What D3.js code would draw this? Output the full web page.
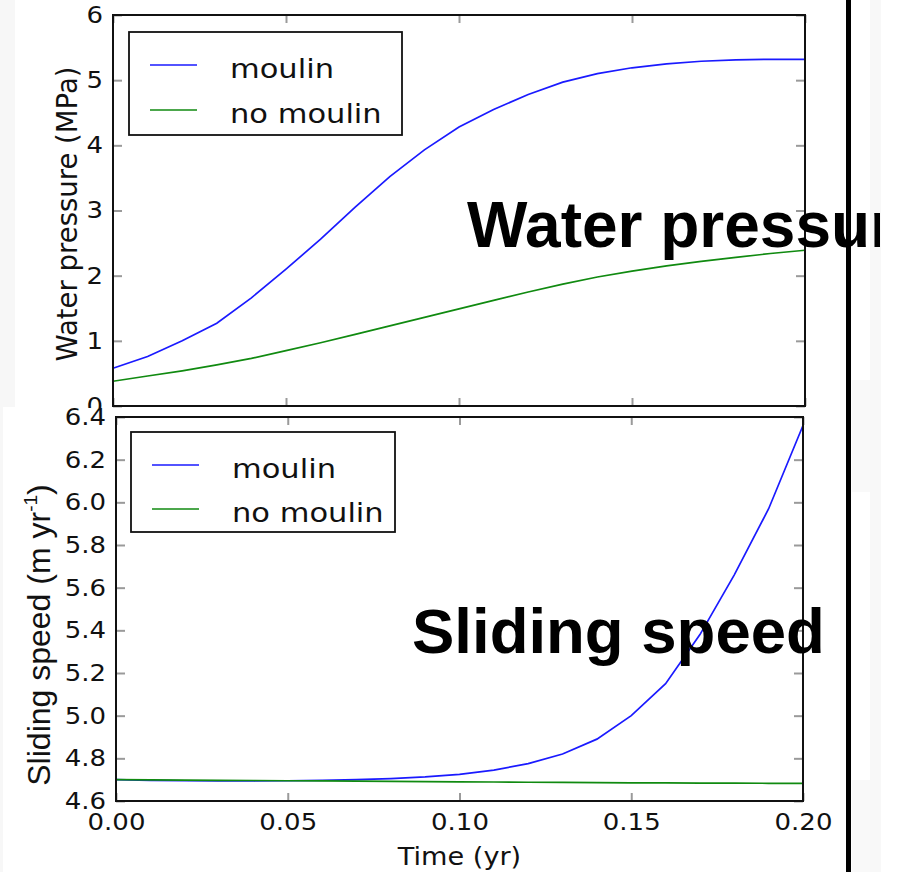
<!DOCTYPE html>
<meta charset="utf-8">
<style>
html,body { margin:0; padding:0; background:#fff; overflow:hidden; }
text { font-family: "DejaVu Sans", sans-serif; fill:#111; }
.tick line { stroke:#9a9a9a; stroke-width:2; }
</style>
<body>
<svg></svg>
<script src="https://cdn.jsdelivr.net/npm/d3@7"></script>
<script>

// time axis (yr), sampled every 0.01
var times = [0,0.01,0.02,0.03,0.04,0.05,0.06,0.07,0.08,0.09,0.10,0.11,0.12,0.13,0.14,0.15,0.16,0.17,0.18,0.19,0.20];
var pressureMoulin   = [0.58,0.76,1.0,1.27,1.66,2.1,2.56,3.05,3.52,3.93,4.28,4.55,4.78,4.97,5.1,5.19,5.25,5.29,5.31,5.32,5.32];
var pressureNoMoulin = [0.38,0.46,0.54,0.63,0.73,0.85,0.97,1.1,1.23,1.36,1.49,1.62,1.75,1.87,1.98,2.07,2.15,2.22,2.28,2.34,2.39];
var speedMoulin   = [4.70,4.697,4.695,4.694,4.694,4.695,4.697,4.70,4.705,4.713,4.725,4.745,4.775,4.82,4.89,5.0,5.15,5.38,5.66,5.97,6.36];
var speedNoMoulin = [4.70,4.699,4.698,4.697,4.696,4.695,4.694,4.693,4.692,4.691,4.69,4.689,4.688,4.687,4.686,4.685,4.685,4.684,4.684,4.683,4.683];
var seriesNames = ["moulin","no moulin"];
var seriesColors = ["#1a1aff","#108a10"];
var timeTicks = [0,0.05,0.10,0.15,0.20];
var pressureTicks = [0,1,2,3,4,5,6];
var speedTicks = [4.6,4.8,5.0,5.2,5.4,5.6,5.8,6.0,6.2,6.4];

var W = 901, H = 872, SX = 1.13;
var svg = d3.select("svg").attr("width", W).attr("height", H);

// faint scanned-background strips
svg.append("rect").attr("x",0).attr("y",0).attr("width",15).attr("height",407).attr("fill","#f7f7f7");
svg.append("rect").attr("x",0).attr("y",407).attr("width",3).attr("height",465).attr("fill","#f7f7f7");
svg.append("rect").attr("x",870).attr("y",0).attr("width",11).attr("height",H).attr("fill","#f8f8f8");
svg.append("rect").attr("x",852).attr("y",380).attr("width",18).attr("height",112).attr("fill","#f9f9f9");
svg.append("rect").attr("x",852).attr("y",780).attr("width",18).attr("height",92).attr("fill","#f9f9f9");

function stretchText(sel, sx) {
  sel.attr("transform", function() {
    return "scale(" + sx + ",1)";
  });
}

function panel(g, x, y, xs, opts) {
  var x0 = x.range()[0], x1 = x.range()[1];
  var y0 = y.range()[0], y1 = y.range()[1];

  // ticks, pointing inward
  var left = g.append("g").attr("transform","translate(" + x0 + ",0)")
    .call(d3.axisLeft(y).tickValues(opts.yTicks).tickSize(-9).tickPadding(0).tickFormat(opts.yFmt));
  left.selectAll("text").attr("x", -opts.yLabelGap / SX).attr("font-size", opts.tickFont)
    .call(stretchText, SX);
  g.append("g").attr("transform","translate(" + x1 + ",0)")
    .call(d3.axisRight(y).tickValues(opts.yTicks).tickSize(-9).tickFormat(""));
  g.append("g").attr("transform","translate(0," + y1 + ")")
    .call(d3.axisTop(x).tickValues(timeTicks).tickSize(-8).tickFormat(""));
  var bottom = g.append("g").attr("transform","translate(0," + y0 + ")")
    .call(d3.axisBottom(x).tickValues(timeTicks).tickSize(-8).tickPadding(0)
      .tickFormat(opts.xLabels ? d3.format(".2f") : ""));
  if (opts.xLabels) {
    bottom.selectAll("text").attr("y", 13).attr("dy", "0.71em").attr("font-size", opts.tickFont)
      .call(stretchText, SX);
  }
  g.selectAll(".domain").remove();
  g.selectAll(".tick text").attr("fill", "#111");

  // lines
  var line = d3.line().x(function(d, i) { return x(times[i]); }).y(function(d) { return y(d); });
  opts.series.forEach(function(s, i) {
    g.append("path").datum(s).attr("d", line)
      .attr("fill","none").attr("stroke", seriesColors[i]).attr("stroke-width", 1.7);
  });

  // frame
  g.append("rect").attr("x", x0).attr("y", y1).attr("width", x1 - x0).attr("height", y0 - y1)
    .attr("fill","none").attr("stroke","#111").attr("stroke-width", 2);

  // legend
  var lg = opts.legend;
  g.append("rect").attr("x", lg.x).attr("y", lg.y).attr("width", lg.w).attr("height", lg.h)
    .attr("fill","#fff").attr("stroke","#111").attr("stroke-width", 1.8);
  seriesNames.forEach(function(name, i) {
    var ly = lg.y + lg.first + i * lg.step;
    g.append("line").attr("x1", lg.x + 21).attr("x2", lg.x + 68).attr("y1", ly).attr("y2", ly)
      .attr("stroke", seriesColors[i]).attr("stroke-width", 1.6);
    g.append("text").attr("transform", "translate(" + (lg.x + 101) + "," + (ly + 13) + ") scale(" + SX + ",1)")
      .attr("font-size", lg.font).text(name);
  });
}

// ---- top panel : water pressure ----
var xTop = d3.scaleLinear().domain([0, 0.2]).range([113, 805]);
var yTop = d3.scaleLinear().domain([0, 6]).range([406, 15]);
var gTop = svg.append("g");
panel(gTop, xTop, yTop, SX, {
  yTicks: pressureTicks, yFmt: d3.format("d"), yLabelGap: 10, tickFont: 23, xLabels: false,
  series: [pressureMoulin, pressureNoMoulin],
  legend: { x: 129, y: 32, w: 273, h: 103, first: 33, step: 45, font: 27 }
});
svg.append("text")
  .attr("transform", "translate(77,214) rotate(-90)")
  .attr("text-anchor", "middle").attr("font-size", 27.5)
  .text("Water pressure (MPa)");

// ---- bottom panel : sliding speed (pasted over lower edge of the top one) ----
svg.append("rect").attr("x", 3).attr("y", 408).attr("width", 843).attr("height", H - 408).attr("fill", "#fff");
var xBot = d3.scaleLinear().domain([0, 0.2]).range([116, 803]);
var yBot = d3.scaleLinear().domain([4.6, 6.4]).range([801, 417]);
var gBot = svg.append("g");
panel(gBot, xBot, yBot, SX, {
  yTicks: speedTicks, yFmt: d3.format(".1f"), yLabelGap: 10, tickFont: 23, xLabels: true,
  series: [speedMoulin, speedNoMoulin],
  legend: { x: 131, y: 432, w: 264, h: 100, first: 33, step: 44, font: 27 }
});
svg.append("text")
  .attr("transform", "translate(" + (116 + 803) / 2 + ",865) scale(" + SX + ",1)")
  .attr("text-anchor", "middle").attr("font-size", 24)
  .text("Time (yr)");
var sl = svg.append("text")
  .attr("transform", "translate(50,635) rotate(-90)")
  .attr("text-anchor", "middle")
  .style("font-family", "'Liberation Sans', Arial, sans-serif").attr("font-size", 32);
sl.append("tspan").text("Sliding speed (m yr");
sl.append("tspan").attr("font-size", 19).attr("dy", -13).text("-1");
sl.append("tspan").attr("dy", 13).text(")");

// ---- overlaid titles ----
svg.append("clipPath").attr("id", "clipR")
  .append("rect").attr("x", 0).attr("y", 0).attr("width", 880).attr("height", H);
svg.append("text").attr("clip-path", "url(#clipR)")
  .attr("x", 467).attr("y", 247)
  .style("font-family", "'Liberation Sans', Arial, sans-serif").style("font-weight", "bold")
  .attr("font-size", 64).style("fill", "#000")
  .text("Water pressure");
svg.append("text")
  .attr("x", 412).attr("y", 653)
  .style("font-family", "'Liberation Sans', Arial, sans-serif").style("font-weight", "bold")
  .attr("font-size", 63.5).style("fill", "#000")
  .text("Sliding speed");

// divider
svg.append("rect").attr("x", 846).attr("y", 0).attr("width", 5).attr("height", H).attr("fill", "#000");

</script>
</body>
